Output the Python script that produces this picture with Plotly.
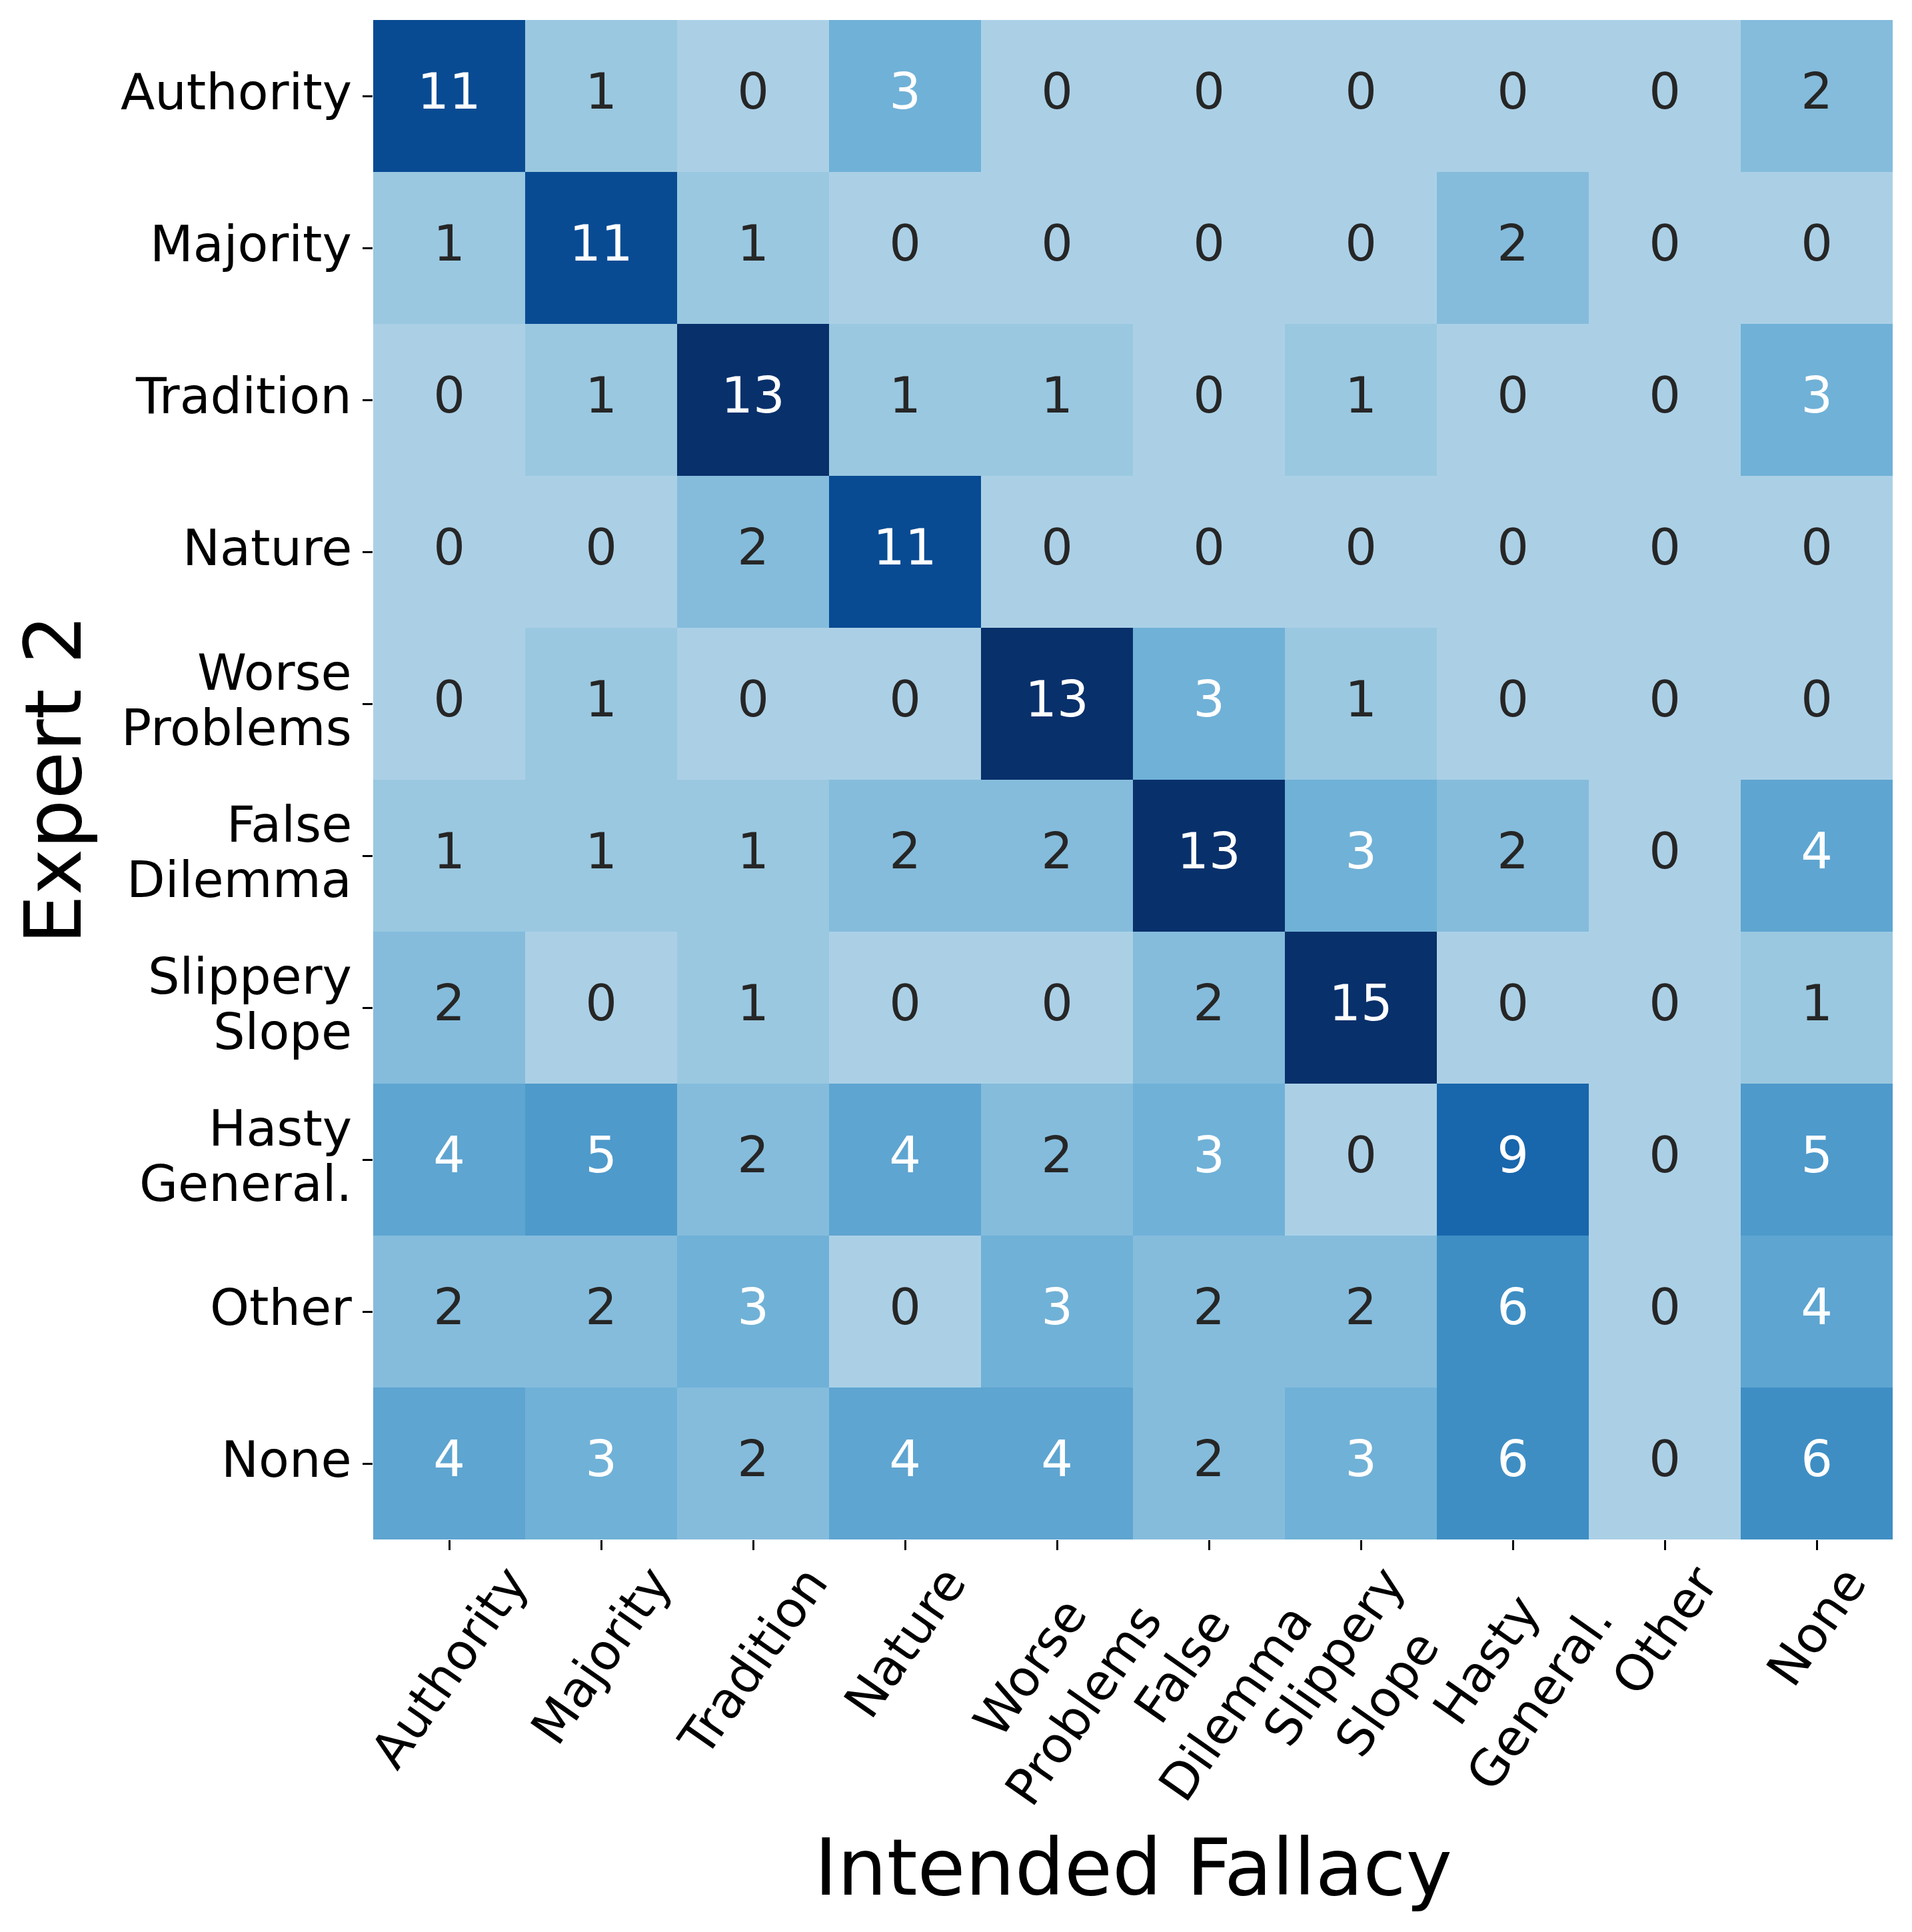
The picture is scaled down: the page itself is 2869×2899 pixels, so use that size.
import plotly.graph_objects as go
import plotly.colors as pc

# Fallacy categories (rows = Expert 2, columns = Intended Fallacy)
categories = ["Authority", "Majority", "Tradition", "Nature", "Worse<br>Problems",
              "False<br>Dilemma", "Slippery<br>Slope", "Hasty<br>General.", "Other", "None"]

row_authority = [11, 1, 0, 3, 0, 0, 0, 0, 0, 2]
row_majority = [1, 11, 1, 0, 0, 0, 0, 2, 0, 0]
row_tradition = [0, 1, 13, 1, 1, 0, 1, 0, 0, 3]
row_nature = [0, 0, 2, 11, 0, 0, 0, 0, 0, 0]
row_worse = [0, 1, 0, 0, 13, 3, 1, 0, 0, 0]
row_false = [1, 1, 1, 2, 2, 13, 3, 2, 0, 4]
row_slippery = [2, 0, 1, 0, 0, 2, 15, 0, 0, 1]
row_hasty = [4, 5, 2, 4, 2, 3, 0, 9, 0, 5]
row_other = [2, 2, 3, 0, 3, 2, 2, 6, 0, 4]
row_none = [4, 3, 2, 4, 4, 2, 3, 6, 0, 6]

z = [row_authority, row_majority, row_tradition, row_nature, row_worse,
     row_false, row_slippery, row_hasty, row_other, row_none]

FONT = "DejaVu Sans"
# the html body has an 8px margin, so the figure is shrunk to compensate
W, H = 2861, 2891
L, R, T, B = 552, 29, 22, 589
PLOT = 2280  # square plot area in px

fig = go.Figure()

# Blues, using only its upper two thirds (0 lands on a light blue)
fig.add_trace(go.Heatmap(
    z=z, x=categories, y=categories,
    colorscale=pc.sequential.Blues, zmin=-6.5, zmax=13,
    showscale=False, hoverongaps=False,
))

# cell annotations: dark text on light cells, white on dark ones
txt_x, txt_y, txt, txt_col = [], [], [], []
for i, row in enumerate(z):
    for j, v in enumerate(row):
        txt_x.append(categories[j])
        txt_y.append(categories[i])
        txt.append(str(v))
        txt_col.append("white" if v >= 3 else "#262626")

fig.add_trace(go.Scatter(
    x=txt_x, y=txt_y, text=txt, mode="text",
    textposition="middle center",
    textfont=dict(family=FONT, size=75, color=txt_col),
    hoverinfo="skip", showlegend=False,
))

# rotated x tick labels, centred under ticks like matplotlib
for c in categories:
    fig.add_annotation(
        x=c, xref="x", y=-22 / PLOT, yref="paper",
        text=c, textangle=-55, showarrow=False,
        xanchor="center", yanchor="top", align="center",
        font=dict(family=FONT, size=75, color="black"),
    )

# y tick labels, one annotation per line for tighter line spacing
for c in categories:
    lines = c.split("<br>")
    n = len(lines)
    for k, line in enumerate(lines):
        fig.add_annotation(
            x=-30 / PLOT, xref="paper", y=c, yref="y",
            text=line, showarrow=False,
            xanchor="right", yanchor="middle",
            yshift=6 + ((n - 1) / 2 - k) * 83,
            font=dict(family=FONT, size=75, color="black"),
        )

fig.add_annotation(
    x=0.5, xref="paper", y=-492 / PLOT, yref="paper",
    text="Intended Fallacy", showarrow=False,
    xanchor="center", yanchor="middle",
    font=dict(family=FONT, size=117, color="black"),
)
fig.add_annotation(
    x=-480 / PLOT, xref="paper", y=0.5, yref="paper",
    text="Expert 2", textangle=-90, showarrow=False,
    xanchor="center", yanchor="middle",
    font=dict(family=FONT, size=117, color="black"),
)

fig.update_xaxes(
    type="category", categoryorder="array", categoryarray=categories,
    range=[-0.5, 9.5], showticklabels=False,
    ticks="outside", ticklen=15, tickwidth=3.3, tickcolor="black",
    showgrid=False, zeroline=False, showline=False,
)
fig.update_yaxes(
    type="category", categoryorder="array", categoryarray=categories,
    range=[9.5, -0.5], showticklabels=False,
    ticks="outside", ticklen=15, tickwidth=3.3, tickcolor="black",
    showgrid=False, zeroline=False, showline=False,
)

fig.update_layout(
    width=W, height=H,
    margin=dict(l=L, r=R, t=T, b=B),
    plot_bgcolor="white", paper_bgcolor="white",
    font=dict(family=FONT),
    showlegend=False,
)

fig.write_html("out.html")
